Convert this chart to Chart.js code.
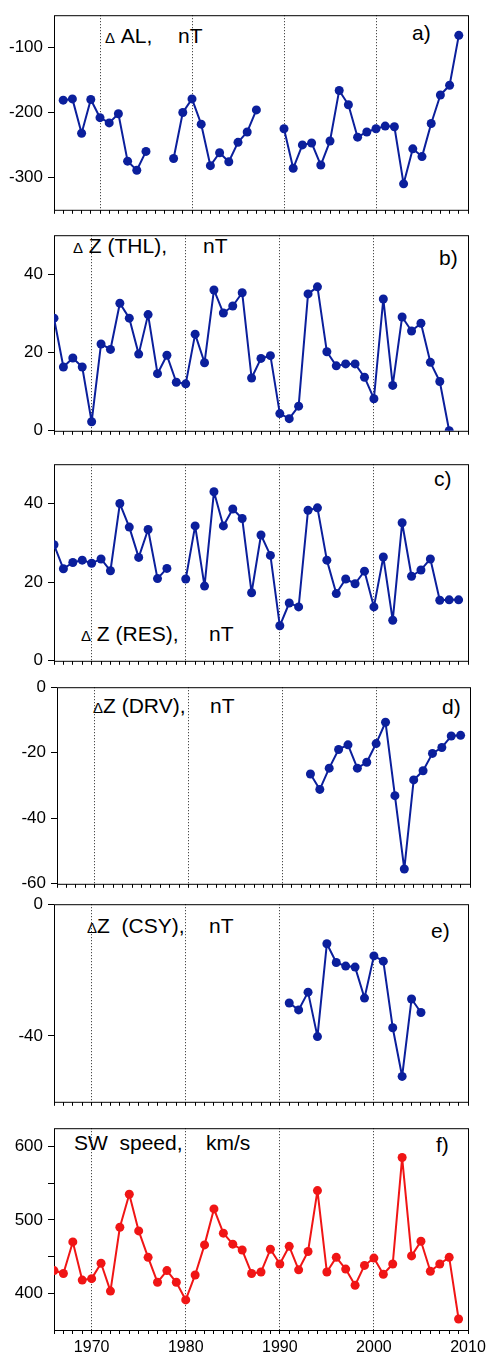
<!DOCTYPE html>
<html>
<head>
<meta charset="utf-8">
<script src="https://cdn.jsdelivr.net/npm/chart.js@4"></script>
<style>
  body { margin: 0; background: #fff; width: 492px; height: 1359px; position: relative; overflow: hidden;
         font-family: Arial, "Liberation Sans", sans-serif; }
  canvas { position: absolute; left: 0; }
  .lbl { position: absolute; font-size: 21px; line-height: 21px; white-space: pre; color: #000; }
  .lbl small { font-size: 15px; }
</style>
</head>
<body>

<div class="lbl" style="left:105px;top:25px"><small>Δ</small> AL,</div>
<div class="lbl" style="left:178px;top:25px">nT</div>
<div class="lbl" style="left:412px;top:22px">a)</div>

<div class="lbl" style="left:73px;top:235px"><small>Δ</small> Z (THL),</div>
<div class="lbl" style="left:203px;top:235px">nT</div>
<div class="lbl" style="left:439px;top:247px">b)</div>

<div class="lbl" style="left:81px;top:623px"><small>Δ</small> Z (RES),</div>
<div class="lbl" style="left:209px;top:623px">nT</div>
<div class="lbl" style="left:434px;top:468px">c)</div>

<div class="lbl" style="left:93px;top:695px"><small>Δ</small>Z (DRV),</div>
<div class="lbl" style="left:210px;top:695px">nT</div>
<div class="lbl" style="left:442px;top:696px">d)</div>

<div class="lbl" style="left:87px;top:915px"><small>Δ</small>Z  (CSY),</div>
<div class="lbl" style="left:209px;top:915px">nT</div>
<div class="lbl" style="left:431px;top:920px">e)</div>

<div class="lbl" style="left:74px;top:1132px">SW  speed,</div>
<div class="lbl" style="left:206px;top:1132px">km/s</div>
<div class="lbl" style="left:436px;top:1134px">f)</div>

<script>
// years 1966..2009
const years = [1966, 1967, 1968, 1969, 1970, 1971, 1972, 1973, 1974, 1975,
  1976, 1977, 1978, 1979, 1980, 1981, 1982, 1983, 1984, 1985,
  1986, 1987, 1988, 1989, 1990, 1991, 1992, 1993, 1994, 1995,
  1996, 1997, 1998, 1999, 2000, 2001, 2002, 2003, 2004, 2005,
  2006, 2007, 2008, 2009];

const deltaAL = [-181, -179, -232, -180, -208, -216, -202, -275, -289, -260,
  null, null, -271, -200, -179, -218, -282, -262, -276, -246,
  -230, -196, null, null, -225, -286, -250, -247, -281, -244,
  -166, -188, -238, -230, -225, -221, -222, -310, -256, -268,
  -217, -173, -158, -81];

const deltaZThl = [28.8, 16.3, 18.6, 16.3, 2.3, 22.2, 20.8, 32.6, 28.8, 19.6,
  29.7, 14.6, 19.3, 12.4, 12.0, 24.7, 17.4, 36.0, 30.1, 31.9,
  35.3, 13.5, 18.5, 19.2, 4.4, 3.1, 6.3, 35.0, 36.8, 20.2,
  16.6, 17.1, 17.1, 13.7, 8.2, 33.7, 11.6, 29.1, 25.5, 27.5,
  17.5, 12.6, 0, null];

const deltaZRes = [29.5, 23.4, 25.0, 25.6, 24.8, 25.9, 22.9, 40.0, 34.0, 26.3,
  33.4, 20.9, 23.5, null, 20.8, 34.3, 19.0, 43.0, 34.3, 38.6,
  36.2, 17.3, 32.0, 26.8, 8.9, 14.7, 13.7, 38.3, 38.9, 25.6,
  17.1, 20.8, 19.6, 22.8, 13.7, 26.4, 10.3, 35.1, 21.5, 23.1,
  25.9, 15.4, 15.5, 15.5];

const drvYears = [1993, 1994, 1995, 1996, 1997, 1998, 1999, 2000, 2001,
  2002, 2003, 2004, 2005, 2006, 2007, 2008, 2009];
const deltaZDrv = [-26.5, -31.2, -24.7, -19.0, -17.6, -24.7, -22.9, -17.2, -10.7,
  -33.1, -55.5, -28.3, -25.5, -20.2, -18.4, -14.9, -14.7];

const csyYears = [1991, 1992, 1993, 1994, 1995, 1996, 1997, 1998, 1999,
  2000, 2001, 2002, 2003, 2004, 2005];
const deltaZCsy = [-30.0, -32.1, -26.7, -40.2, -12.0, -17.7, -18.8, -19.1, -28.5,
  -15.7, -17.3, -37.5, -52.3, -28.8, -32.9];

const swSpeed = [431, 427, 470, 418, 420, 441, 403, 490, 535, 485,
  449, 415, 431, 415, 391, 425, 466, 515, 482, 467,
  459, 427, 429, 460, 440, 464, 432, 457, 540, 429,
  449, 433, 411, 438, 448, 426, 440, 585, 451, 471,
  430, 440, 449, 365];

// axis ticks
const ticksAL = [-300, -200, -100];
const ticksZ = [0, 20, 40];
const ticksDrv = [-60, -40, -20, 0];
const ticksCsy = [-40, 0];
const ticksSW = [400, 450, 500, 550, 600];
const labelsSW = [400, 500, 600];
const decadeLines = [1970, 1980, 1990, 2000];
const yearLabels = [1970, 1980, 1990, 2000, 2010];

const BLUE = '#0b1f9c';
const RED = '#f01515';
const FONT = 'Arial, "Liberation Sans", sans-serif';

const framePlugin = {
  id: 'frame',
  beforeDatasetsDraw(chart) {
    const { ctx, chartArea: a } = chart;
    ctx.save();
    ctx.strokeStyle = '#000';
    ctx.lineWidth = 1;
    ctx.strokeRect(a.left + 0.5, a.top + 0.5, a.right - a.left, a.bottom - a.top);
    ctx.restore();
  }
};

function panel(p) {
  const canvas = document.createElement('canvas');
  canvas.width = 492;
  canvas.height = p.padTop + p.plotH + p.xh;
  canvas.style.top = p.top + 'px';
  document.body.appendChild(canvas);

  const points = p.xs.map((x, i) => ({ x, y: p.ys[i] }));

  return new Chart(canvas, {
    type: 'line',
    data: {
      datasets: [{
        data: points,
        borderColor: p.color,
        backgroundColor: p.color,
        borderWidth: 2,
        borderJoinStyle: 'round',
        pointRadius: 4.5,
        pointBorderWidth: 0,
        pointHoverRadius: 4.5,
        spanGaps: false,
        tension: 0,
        clip: 0
      }]
    },
    plugins: [framePlugin],
    options: {
      responsive: false,
      animation: false,
      events: [],
      layout: { padding: { top: p.padTop, right: 492 - p.R, left: 0, bottom: 0 } },
      plugins: { legend: { display: false }, tooltip: { enabled: false } },
      scales: {
        x: {
          type: 'linear',
          min: p.xMin,
          max: 2010,
          afterFit: (s) => { s.height = p.xh; },
          ticks: {
            display: p.showYears,
            stepSize: 1,
            autoSkip: false,
            maxRotation: 0,
            padding: 4,
            color: '#000',
            font: { family: FONT, size: 16 },
            callback: (v) => (yearLabels.includes(v) ? String(v) : '')
          },
          grid: {
            drawOnChartArea: true,
            drawTicks: true,
            tickLength: 4,
            tickColor: '#000',
            lineWidth: 1,
            color: (ctx) => (ctx.tick && decadeLines.includes(ctx.tick.value) ? '#222' : 'rgba(0,0,0,0)')
          },
          border: { display: false, dash: [1, 2] }
        },
        y: {
          min: p.yMin,
          max: p.yMax,
          afterFit: (s) => { s.width = p.L; },
          afterBuildTicks: (s) => { s.ticks = p.yTicks.map((v) => ({ value: v })); },
          ticks: {
            padding: 5,
            color: '#000',
            font: { family: FONT, size: 17 },
            callback: (v) => (p.yLabels.includes(v) ? String(v) : '')
          },
          grid: { drawOnChartArea: false, drawTicks: true, tickLength: 6, tickColor: '#000' },
          border: { display: false }
        }
      }
    }
  });
}

panel({ top: 0, padTop: 9, plotH: 206, xh: 10, L: 54, R: 468, xMin: 1965, showYears: false,
  yMin: -350, yMax: -50, yTicks: ticksAL, yLabels: ticksAL, xs: years, ys: deltaAL, color: BLUE });

panel({ top: 220, padTop: 10, plotH: 206, xh: 10, L: 54, R: 468, xMin: 1966, showYears: false,
  yMin: 0, yMax: 50, yTicks: ticksZ, yLabels: ticksZ, xs: years, ys: deltaZThl, color: BLUE });

panel({ top: 449, padTop: 10, plotH: 207, xh: 10, L: 54, R: 468, xMin: 1966, showYears: false,
  yMin: 0, yMax: 50, yTicks: ticksZ, yLabels: ticksZ, xs: years, ys: deltaZRes, color: BLUE });

panel({ top: 672, padTop: 10, plotH: 207, xh: 10, L: 57, R: 470, xMin: 1966, showYears: false,
  yMin: -60, yMax: 0, yTicks: ticksDrv, yLabels: ticksDrv, xs: drvYears, ys: deltaZDrv, color: BLUE });

panel({ top: 889, padTop: 10, plotH: 208, xh: 10, L: 54, R: 468, xMin: 1966, showYears: false,
  yMin: -60, yMax: 0, yTicks: ticksCsy, yLabels: ticksCsy, xs: csyYears, ys: deltaZCsy, color: BLUE });

panel({ top: 1113, padTop: 10, plotH: 207, xh: 29, L: 54, R: 468, xMin: 1966, showYears: true,
  yMin: 350, yMax: 625, yTicks: ticksSW, yLabels: labelsSW, xs: years, ys: swSpeed, color: RED });
</script>
</body>
</html>
